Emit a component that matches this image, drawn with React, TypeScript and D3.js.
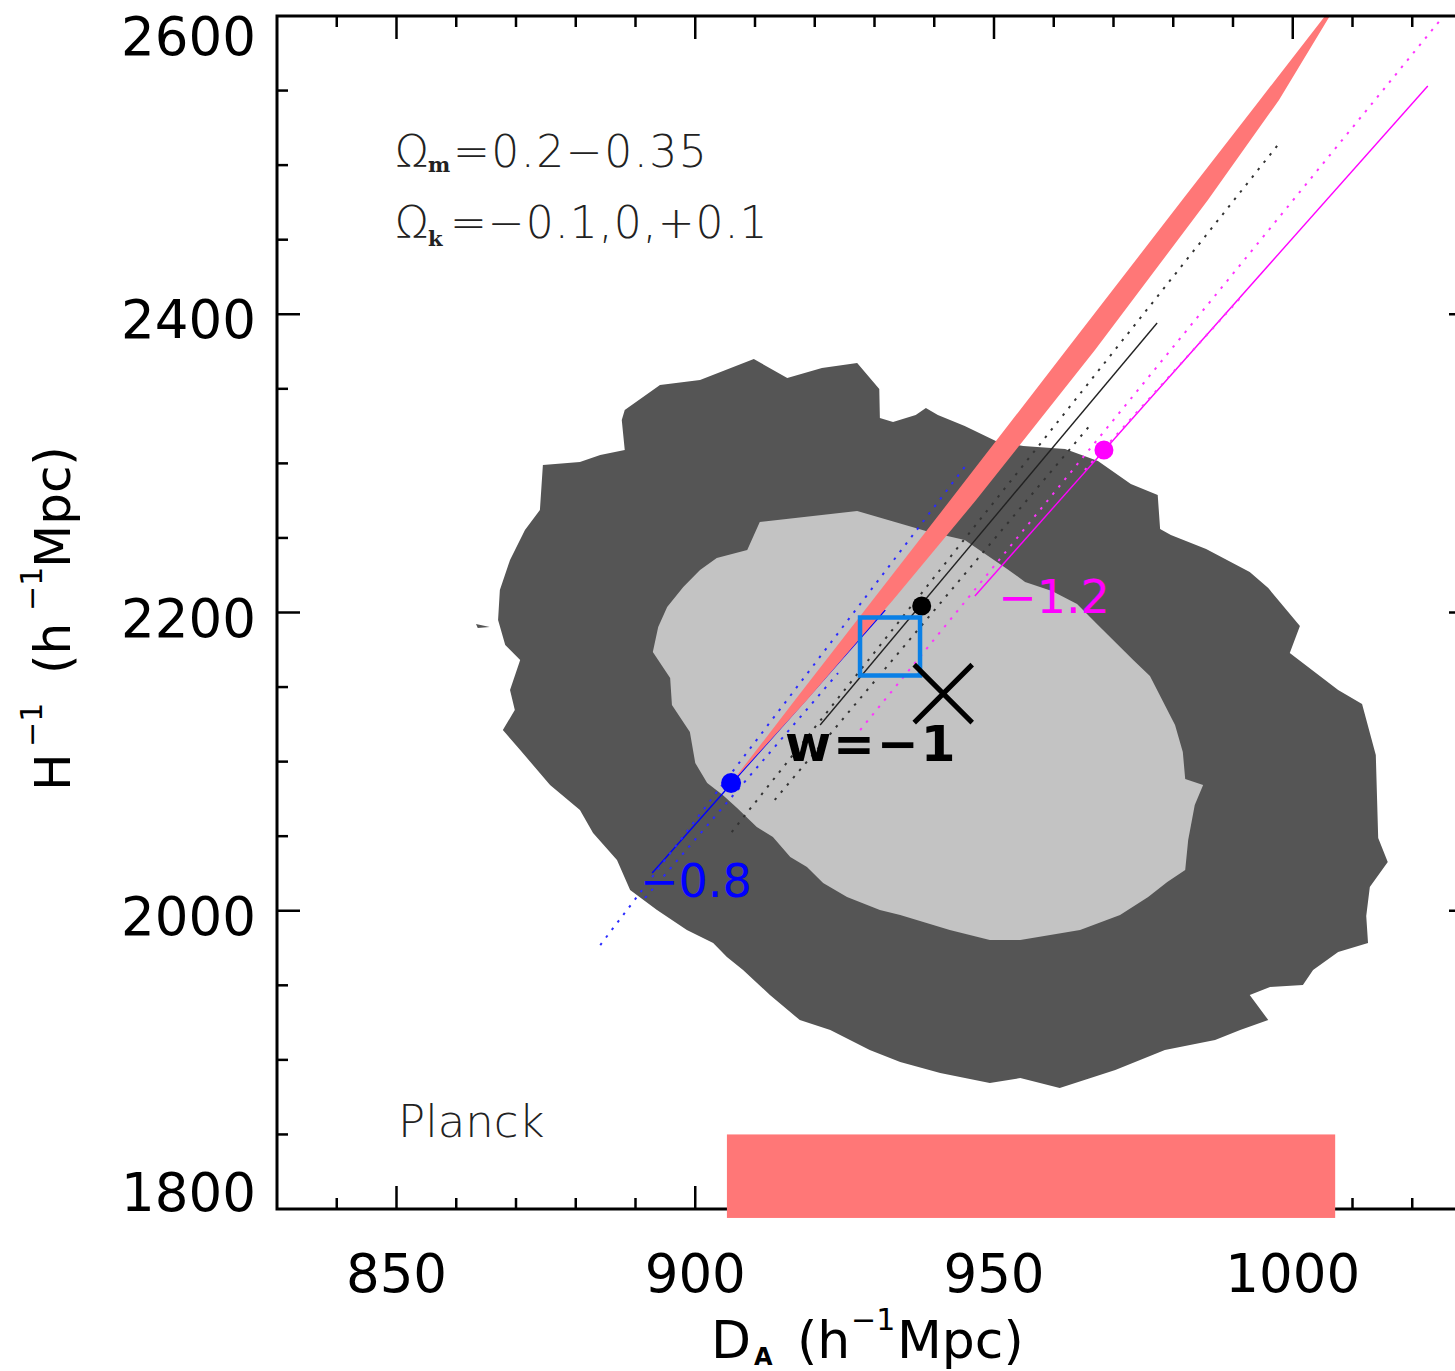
import React, { useEffect, useRef } from 'react'
import * as d3 from 'd3'

type Pt = [number, number]

// axis ticks (D_A in h^-1 Mpc, H^-1 in h^-1 Mpc)
const xMajorTicks = [850, 900, 950, 1000]
const yMajorTicks = [1800, 2000, 2200, 2400, 2600]

// Planck 2-sigma region
const outerContour: Pt[] = [
  [888.2, 2335.8], [894.1, 2352.6], [900.8, 2355.9], [909.8, 2370], [915.4, 2357.3],
  [921.2, 2364], [927.1, 2367.3], [930.8, 2349.9], [930.9, 2330.4], [933.1, 2327.7],
  [936.9, 2332.4], [938.6, 2337.1], [940.6, 2332.4], [945.1, 2325.1], [950.3, 2315],
  [954.9, 2311.6], [961.9, 2309.6], [967.4, 2301.6], [972.9, 2286.2], [977.4, 2278.8],
  [977.8, 2256], [979.6, 2252], [985.5, 2242.6], [992.8, 2227.2], [995.9, 2216.4],
  [1001.2, 2190.9], [999.5, 2172.8], [1007.6, 2148], [1011.6, 2138.6], [1013.9, 2104.4],
  [1014.3, 2048.8], [1015.9, 2032.7], [1012.9, 2015.9], [1012.3, 1996.5], [1012.6, 1978.4],
  [1007.6, 1972.3], [1003.4, 1960.3], [1001.7, 1950.2], [996.2, 1948.9], [992.8, 1943.5],
  [995.9, 1926.7], [991.2, 1920], [987.0, 1913.3], [978.6, 1906.6], [970.3, 1893.2],
  [961.0, 1881.1], [954.4, 1887.8], [949.3, 1884.5], [941.0, 1891.2], [934.3, 1898.6],
  [929.2, 1906.6], [922.6, 1920], [917.5, 1926.7], [912.5, 1943.5], [908.0, 1960.3],
  [905.3, 1969], [903.0, 1978.4], [898.6, 1987.1], [893.6, 2000.5], [889.1, 2013.9],
  [886.9, 2034], [882.9, 2052.1], [880.7, 2067.6], [875.7, 2084.3], [870.7, 2107.8],
  [867.8, 2121.2], [869.8, 2134.6], [869.0, 2148], [870.7, 2168.1], [868.2, 2178.2],
  [867.0, 2195], [867.3, 2215.1], [869.0, 2235.2], [871.5, 2255.3], [874.0, 2268.7],
  [874.5, 2298.9], [880.7, 2300.9], [884.1, 2305.6], [888.2, 2309], [887.7, 2329.1],
]
const outerSpeck: Pt[] = [[863.3, 2192.3], [865.6, 2190.3], [863.6, 2189.6]]

// Planck 1-sigma region
const innerContour: Pt[] = [
  [892.9, 2173.5], [893.8, 2190.3], [895.3, 2203.7], [898.0, 2217.1], [900.8, 2228.5],
  [903.6, 2236.5], [908.7, 2241.9], [910.8, 2260.7], [927.1, 2268.1], [938.6, 2254.7],
  [945.1, 2248.6], [952.2, 2229.2], [955.2, 2220.5], [959.7, 2214.4], [963.9, 2205.7],
  [967.4, 2191.6], [973.3, 2168.1], [976.1, 2157.4], [980.3, 2124.6], [981.6, 2106.5],
  [982.0, 2088.3], [985.0, 2084.3], [983.6, 2070.9], [982.5, 2047.4], [982.0, 2027.3],
  [979.0, 2019.3], [975.8, 2009.2], [971.1, 1997.2], [964.4, 1987.1], [954.4, 1980.4],
  [949.3, 1980.4], [942.6, 1987.1], [934.3, 1997.2], [930.9, 2000.5], [925.4, 2009.2],
  [921.4, 2018.6], [918.7, 2029.3], [915.9, 2036], [913.0, 2049.5], [910.3, 2056.2],
  [907.0, 2068.9], [904.6, 2077.6], [902.0, 2085.7], [900.0, 2099.1], [899.1, 2119.9],
  [896.1, 2138], [895.8, 2156.1],
]

// pink band, both edges from the lower tip upwards
const bandLeft: Pt[] = [
  [906.0, 2085.7], [916.7, 2141.3], [929.7, 2208.4], [942.7, 2275.4], [962.1, 2376],
  [981.5, 2476.6], [994.5, 2543.7], [1005.4, 2600],
]
const bandRight: Pt[] = [
  [918.7, 2141.3], [933.1, 2208.4], [947.0, 2275.4], [966.9, 2376],
  [985.8, 2476.6], [997.7, 2543.7], [1006.2, 2600],
]

// Planck D_A range (bar at the bottom)
const planckDA = [905.3, 1007.1]
const planckBarH = [1794, 1850]

// w = -0.8 (blue)
const w08Solid: Pt[] = [[892.8, 2025.3], [931.8, 2201.7]]
const w08DotA: Pt[] = [[884.1, 1977], [945.1, 2297.6]]
const w08DotB: Pt[] = [[891.6, 2008.6], [923.9, 2159.4]]
// w = -1 (black)
const w10Solid: Pt[] = [[920.9, 2124.6], [977.3, 2394.1]]
const w10DotA: Pt[] = [[906.1, 2052.8], [997.5, 2513.5]]
const w10DotB: Pt[] = [[913.3, 2074.3], [966.1, 2325.7]]
// w = -1.2 (magenta)
const w12Solid: Pt[] = [[946.8, 2211.1], [1022.6, 2553.1]]
const w12DotA: Pt[] = [[927.6, 2121.2], [1025.1, 2599.3]]
const w12DotB: Pt[] = [[965.2, 2295.6], [991.2, 2410.9]]

const bluePoint: Pt = [906.0, 2085.7]
const blackPoint: Pt = [937.9, 2204.4]
const magentaPoint: Pt = [968.4, 2309]
const squarePoint: Pt = [932.6, 2177.2]
const crossPoint: Pt = [941.5, 2145.6]

const App = () => {
  const svgRef = useRef(null)

  useEffect(() => {
    const svg = d3.select(svgRef.current)
    svg.selectAll('*').remove()

    const left = 277
    const right = 1472
    const top = 16
    const bottom = 1209
    const x = d3.scaleLinear().domain([830, 1030]).range([left, right])
    const y = d3.scaleLinear().domain([1800, 2600]).range([bottom, top])
    const line = d3.line<Pt>().x((d) => x(d[0])).y((d) => y(d[1]))

    svg
      .append('defs')
      .append('clipPath')
      .attr('id', 'plotArea')
      .append('rect')
      .attr('x', left)
      .attr('y', top)
      .attr('width', right - left)
      .attr('height', bottom - top)

    const plot = svg.append('g').attr('clip-path', 'url(#plotArea)')

    // contours
    plot.append('path').attr('d', line(outerContour) + 'Z').attr('fill', '#555555')
    plot.append('path').attr('d', line(outerSpeck) + 'Z').attr('fill', '#555555')
    plot.append('path').attr('d', line(innerContour) + 'Z').attr('fill', '#c3c3c3')

    // model lines
    const drawLine = (pts: Pt[], color: string, dotted: boolean) => {
      plot
        .append('path')
        .attr('d', line(pts))
        .attr('fill', 'none')
        .attr('stroke', color)
        .attr('stroke-width', dotted ? 2 : 1.4)
        .attr('stroke-dasharray', dotted ? '2.5,7' : null)
    }
    drawLine(w08Solid, '#0000ff', false)
    drawLine(w08DotA, '#2a2aff', true)
    drawLine(w08DotB, '#2a2aff', true)
    drawLine(w10Solid, '#222222', false)
    drawLine(w10DotA, '#333333', true)
    drawLine(w10DotB, '#333333', true)
    drawLine(w12Solid, '#ff00ff', false)
    drawLine(w12DotA, '#ff33ff', true)
    drawLine(w12DotB, '#ff33ff', true)

    // pink band
    const band = bandLeft.concat(bandRight.slice().reverse())
    plot.append('path').attr('d', line(band) + 'Z').attr('fill', '#ff7777')

    // markers
    plot.append('circle').attr('cx', x(bluePoint[0])).attr('cy', y(bluePoint[1])).attr('r', 10).attr('fill', '#0000ff')
    plot.append('circle').attr('cx', x(blackPoint[0])).attr('cy', y(blackPoint[1])).attr('r', 9.5).attr('fill', '#000')
    plot.append('circle').attr('cx', x(magentaPoint[0])).attr('cy', y(magentaPoint[1])).attr('r', 9.5).attr('fill', '#ff00ff')

    plot
      .append('rect')
      .attr('x', x(squarePoint[0]) - 30)
      .attr('y', y(squarePoint[1]) - 29)
      .attr('width', 60)
      .attr('height', 58)
      .attr('fill', 'none')
      .attr('stroke', '#0a80e6')
      .attr('stroke-width', 4.5)

    const cx = x(crossPoint[0])
    const cy = y(crossPoint[1])
    plot
      .append('path')
      .attr('d', `M${cx - 29},${cy - 29}L${cx + 29},${cy + 29}M${cx - 29},${cy + 29}L${cx + 29},${cy - 29}`)
      .attr('stroke', '#000')
      .attr('stroke-width', 5)

    // frame and ticks
    const axis = svg.append('g').attr('stroke', '#000')
    axis
      .append('rect')
      .attr('x', left)
      .attr('y', top)
      .attr('width', right - left)
      .attr('height', bottom - top)
      .attr('fill', 'none')
      .attr('stroke-width', 3)

    d3.range(840, 1030, 10).forEach((v) => {
      const len = xMajorTicks.includes(v) ? 23 : 11
      axis.append('line').attr('x1', x(v)).attr('x2', x(v)).attr('y1', bottom).attr('y2', bottom - len).attr('stroke-width', 2.5)
      axis.append('line').attr('x1', x(v)).attr('x2', x(v)).attr('y1', top).attr('y2', top + len).attr('stroke-width', 2.5)
    })
    d3.range(1850, 2600, 50).forEach((v) => {
      const len = yMajorTicks.includes(v) ? 23 : 11
      axis.append('line').attr('y1', y(v)).attr('y2', y(v)).attr('x1', left).attr('x2', left + len).attr('stroke-width', 2.5)
      axis.append('line').attr('y1', y(v)).attr('y2', y(v)).attr('x1', right).attr('x2', right - len).attr('stroke-width', 2.5)
    })

    const labelFont = "'DejaVu Sans', sans-serif"
    svg
      .selectAll('.xlab')
      .data(xMajorTicks)
      .enter()
      .append('text')
      .attr('class', 'xlab')
      .attr('x', (d) => x(d))
      .attr('y', 1292)
      .attr('text-anchor', 'middle')
      .style('font-family', labelFont)
      .style('font-size', '53px')
      .text((d) => d)

    svg
      .selectAll('.ylab')
      .data(yMajorTicks)
      .enter()
      .append('text')
      .attr('class', 'ylab')
      .attr('x', 256)
      .attr('y', (d) => Math.min(1211, Math.max(55, y(d) + 24)))
      .attr('text-anchor', 'end')
      .style('font-family', labelFont)
      .style('font-size', '53px')
      .text((d) => d)

    // x axis title
    const xt = svg.append('text').attr('y', 1358).style('font-family', labelFont).style('font-size', '52px')
    xt.append('tspan').attr('x', 711).text('D')
    xt.append('tspan').attr('x', 754).attr('dy', 7).style('font-size', '24px').style('font-weight', 'bold').text('A')
    xt.append('tspan').attr('x', 797).attr('dy', -7).text('(h')
    xt.append('tspan').attr('x', 851).attr('dy', -28).style('font-size', '30px').text('−1')
    xt.append('tspan').attr('x', 897).attr('dy', 28).text('Mpc)')

    // y axis title
    const yt = svg
      .append('text')
      .attr('transform', 'translate(70, 787) rotate(-90)')
      .style('font-family', labelFont)
      .style('font-size', '50px')
    yt.append('tspan').attr('x', -4).text('H')
    yt.append('tspan').attr('x', 40).attr('dy', -28).style('font-size', '30px').text('−1')
    yt.append('tspan').attr('x', 113).attr('dy', 28).text('(h')
    yt.append('tspan').attr('x', 176).attr('dy', -28).style('font-size', '30px').text('−1')
    yt.append('tspan').attr('x', 219).attr('dy', 28).text('Mpc)')

    // annotations
    const noteFont = "'DejaVu Sans', sans-serif"
    const om = svg.append('text').attr('x', 395).attr('y', 167).style('font-family', noteFont).style('font-size', '44px').style('font-weight', 200).attr('fill', '#222')
    om.append('tspan').text('Ω')
    om.append('tspan').attr('x', 428).attr('dy', 5).style('font-family', "'DejaVu Serif', serif").style('font-weight', 'bold').style('font-size', '21px').text('m')
    om.append('tspan').attr('x', 453).attr('dy', -5).style('letter-spacing', '1.5px').text('=0.2−0.35')

    const ok = svg.append('text').attr('x', 395).attr('y', 238).style('font-family', noteFont).style('font-size', '44px').style('font-weight', 200).attr('fill', '#222')
    ok.append('tspan').text('Ω')
    ok.append('tspan').attr('x', 428).attr('dy', 8).style('font-family', "'DejaVu Serif', serif").style('font-weight', 'bold').style('font-size', '21px').text('k')
    ok.append('tspan').attr('x', 450).attr('dy', -8).style('letter-spacing', '1px').text('=−0.1,0,+0.1')

    svg.append('text').attr('x', 398).attr('y', 1137).style('font-family', noteFont).style('font-size', '45px').style('font-weight', 200).attr('fill', '#222').text('Planck')

    svg.append('text').attr('x', x(915.0)).attr('y', y(2100.4)).style('font-family', labelFont).style('font-size', '50px').style('font-weight', 'bold').style('letter-spacing', '2px').text('w=−1')
    svg.append('text').attr('x', x(890.75)).attr('y', y(2009.2)).style('font-family', labelFont).style('font-size', '46px').attr('fill', '#0000ff').text('−0.8')
    svg.append('text').attr('x', x(950.7)).attr('y', y(2199.7)).style('font-family', labelFont).style('font-size', '46px').attr('fill', '#ff00ff').text('−1.2')

    // Planck D_A bar
    svg
      .append('rect')
      .attr('x', x(planckDA[0]))
      .attr('width', x(planckDA[1]) - x(planckDA[0]))
      .attr('y', y(planckBarH[1]))
      .attr('height', y(planckBarH[0]) - y(planckBarH[1]))
      .attr('fill', '#ff7777')
  }, [])

  return (
    <svg
      ref={svgRef}
      width={1455}
      height={1371}
      style={{ position: 'absolute', left: 0, top: 0, background: '#fff' }}
    ></svg>
  )
}

export default App
